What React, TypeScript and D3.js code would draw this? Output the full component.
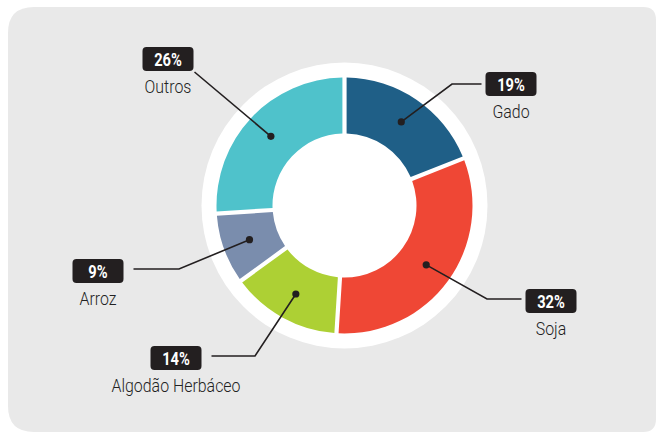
import { useEffect, useRef } from "react";
import * as d3 from "d3";

const W = 657;
const H = 433;

const CATEGORIES = ["Gado", "Soja", "Algodão Herbáceo", "Arroz", "Outros"];
const SHARES = [19, 32, 14, 9, 26];
const COLORS = ["#1f5f87", "#ef4735", "#add034", "#7a8dad", "#4fc2cb"];

// label anchors (box centre) and leader elbow, per category
const LABEL_POS: [number, number][] = [
  [511, 84],
  [551, 301],
  [176, 358],
  [98, 271],
  [168, 59],
];
const ELBOW: ([number, number] | null)[] = [
  [452, 84],
  [487, 299],
  [255, 356],
  [179, 269],
  null,
];

const CX = 344.5;
const CY = 205.5;
const R_OUTER = 128;
const R_INNER = 72;
const R_RING = 143;
const R_DOT = 101;

const LABEL_FONT = "Roboto, 'Noto Sans', sans-serif";

export default function App() {
  const svgRef = useRef<SVGSVGElement | null>(null);

  useEffect(() => {
    const svg = d3.select(svgRef.current);
    svg.selectAll("*").remove();

    // grey panel, rounder on the left
    const x0 = 8, y0 = 7, x1 = 656, y1 = 432;
    const rl = 26, rr = 13;
    svg
      .append("path")
      .attr(
        "d",
        `M${x0 + rl},${y0} H${x1 - rr} Q${x1},${y0} ${x1},${y0 + rr} V${y1 - rr} Q${x1},${y1} ${x1 - rr},${y1} H${x0 + rl} Q${x0},${y1} ${x0},${y1 - rl} V${y0 + rl} Q${x0},${y0} ${x0 + rl},${y0} Z`
      )
      .attr("fill", "#e9e9e9");

    const g = svg.append("g").attr("transform", `translate(${CX},${CY})`);

    g.append("circle").attr("r", R_RING).attr("fill", "#fff");

    const pie = d3
      .pie<number>()
      .sort(null)
      .value((d) => d);
    const arcs = pie(SHARES);

    const arc = d3
      .arc<d3.PieArcDatum<number>>()
      .innerRadius(R_INNER)
      .outerRadius(R_OUTER)
      .padAngle(0.028)
      .padRadius(150);

    g.selectAll("path.slice")
      .data(arcs)
      .join("path")
      .attr("class", "slice")
      .attr("d", arc)
      .attr("fill", (_, i) => COLORS[i]);

    const dotArc = d3
      .arc<d3.PieArcDatum<number>>()
      .innerRadius(R_DOT)
      .outerRadius(R_DOT);

    const boxW = 51;
    const boxH = 24;

    arcs.forEach((a, i) => {
      const [dx, dy] = dotArc.centroid(a);
      const px = CX + dx;
      const py = CY + dy;
      const [lx, ly] = LABEL_POS[i];
      const left = lx < CX;
      const elbow = ELBOW[i];

      let pts: [number, number][];
      if (elbow) {
        const endX = left ? lx + boxW / 2 + 10 : lx - boxW / 2 - 4;
        pts = [[px, py], elbow, [endX, elbow[1]]];
      } else {
        pts = [[px, py], [lx + boxW / 2 + 1, ly + boxH / 2 + 1]];
      }

      svg
        .append("path")
        .attr("d", d3.line()(pts))
        .attr("fill", "none")
        .attr("stroke", "#231f20")
        .attr("stroke-width", 1.6);

      svg.append("circle").attr("cx", px).attr("cy", py).attr("r", 3.6).attr("fill", "#231f20");

      svg
        .append("rect")
        .attr("x", lx - boxW / 2)
        .attr("y", ly - boxH / 2)
        .attr("width", boxW)
        .attr("height", boxH)
        .attr("rx", 4)
        .attr("fill", "#231f20");

      // condensed look: squeeze horizontally
      svg
        .append("text")
        .attr("transform", `translate(${lx},${ly + 6.5}) scale(0.84,1)`)
        .attr("text-anchor", "middle")
        .attr("font-family", LABEL_FONT)
        .attr("font-weight", 700)
        .attr("font-size", 17.5)
        .attr("fill", "#fff")
        .text(`${SHARES[i]}%`);

      svg
        .append("text")
        .attr("transform", `translate(${lx},${ly + 34}) scale(0.86,1)`)
        .attr("text-anchor", "middle")
        .attr("font-family", LABEL_FONT)
        .attr("font-weight", 300)
        .attr("font-size", 18.5)
        .attr("fill", "#222")
        .text(CATEGORIES[i]);
    });
  }, []);

  return (
    <svg
      ref={svgRef}
      width={W}
      height={H}
      viewBox={`0 0 ${W} ${H}`}
      style={{ position: "absolute", left: 0, top: 0, display: "block", background: "#fff" }}
    />
  );
}
